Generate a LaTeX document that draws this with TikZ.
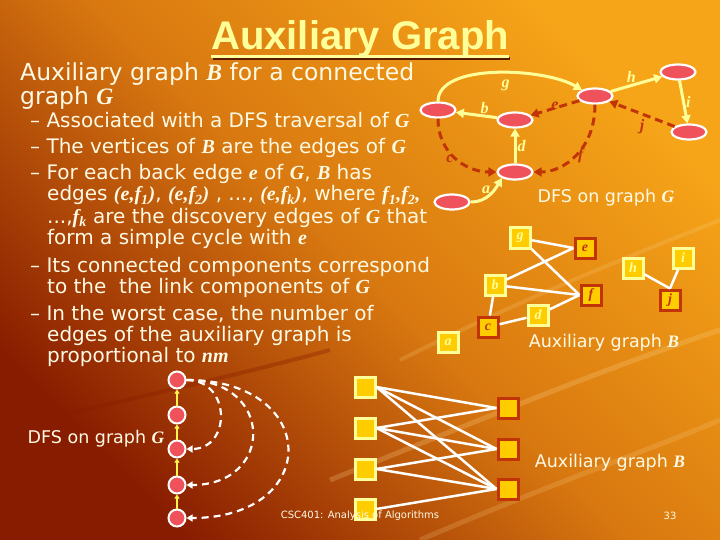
\documentclass[tikz,border=0pt]{standalone}
\usepackage{fontspec}
\setmainfont{DejaVu Sans}
\newfontfamily\titlefont{Liberation Sans}
\newfontfamily\varfont{Liberation Serif}
\usetikzlibrary{shapes.geometric,arrows.meta}
\newcommand{\mv}[1]{{\varfont\bfseries\itshape #1}}
\definecolor{bgtop}{RGB}{246,164,24}
\definecolor{bgmid}{RGB}{216,120,16}
\definecolor{bgbot}{RGB}{136,28,0}
\definecolor{paleyel}{RGB}{255,255,153}
\definecolor{cream}{RGB}{255,250,228}
\definecolor{rust}{RGB}{192,52,8}
\definecolor{vred}{RGB}{240,82,92}
\definecolor{sqgold}{RGB}{255,204,0}
\definecolor{shadowc}{RGB}{90,25,0}
\begin{document}
\begin{tikzpicture}[x=1pt, y=-1pt, >={Triangle[length=8pt,width=9pt]},
  vertex/.style={ellipse, draw=white, line width=2.2pt, fill=vred, minimum width=35pt, minimum height=15pt, inner sep=0pt},
  dot/.style={circle, draw=white, line width=2pt, fill=vred, minimum size=17pt, inner sep=0pt},
  tree/.style={->, paleyel, line width=3pt},
  back/.style={->, rust, line width=3pt, dash pattern=on 8pt off 5pt},
  elab/.style={inner sep=1pt, font=\fontsize{16}{16}\varfont\bfseries\itshape},
  sq/.style={rectangle, draw=paleyel, line width=3pt, fill=sqgold, minimum size=20pt, inner sep=0pt, text=paleyel, font=\fontsize{14}{14}\varfont\bfseries\itshape},
  sqb/.style={sq, draw=rust, text=rust},
  link/.style={white, line width=2.5pt},
  chain/.style={->, yellow!70, line width=2pt, >={Triangle[length=4pt,width=5pt]}},
  jump/.style={->, white, line width=2.2pt, dash pattern=on 7pt off 5pt, >={Triangle[length=6pt,width=7pt]}},
  titre/.style={anchor=base west, inner sep=0pt, font=\titlefont\fontsize{40}{40}\selectfont\bfseries},
  body/.style={anchor=base west, inner sep=0pt, text=cream, font=\fontsize{20}{20}\selectfont},
  captxt/.style={anchor=base, inner sep=0pt, text=cream, font=\fontsize{17.5}{17.5}\selectfont}]
  \useasboundingbox (0,0) rectangle (720,540);
  % fond degrade
  \shade[top color=bgtop, bottom color=bgbot, middle color=bgmid, shading angle=-45] (0,0) rectangle (720,540);
  \draw[bgtop!50!white, line width=5pt, opacity=.25] (330,480) .. controls (480,420) and (600,370) .. (720,330);
  \draw[bgtop!50!white, line width=5pt, opacity=.2] (420,540) .. controls (560,480) and (650,450) .. (720,420);
  \draw[bgtop!50!white, line width=4pt, opacity=.2] (400,360) .. controls (520,300) and (620,260) .. (720,220);
  \draw[bgbot, line width=4pt, opacity=.35] (0,430) .. controls (100,405) and (220,380) .. (330,350);
  % titre
  \draw[shadowc, line width=3pt] (213,59) -- (510,59);
  \node[titre, text=paleyel] (title) at (211,50) {Auxiliary Graph};
  \draw[paleyel, line width=3pt] ([yshift=-7pt]title.base west) -- ([yshift=-7pt]title.base east);
  % texte
  \node[body, font=\fontsize{23.5}{23.5}\selectfont] (t1) at (20,81) {Auxiliary graph \mv{B} for a connected};
  \node[body, font=\fontsize{23.5}{23.5}\selectfont] (t2) at (20,105) {graph \mv{G}};
  \node[body] (t3) at (30,128) {– Associated with a DFS traversal of \mv{G}};
  \node[body] (t4) at (30,154) {– The vertices of \mv{B} are the edges of \mv{G}};
  \node[body] (t5) at (30,180) {– For each back edge \mv{e} of \mv{G}, \mv{B} has};
  \node[body] (t6) at (47,201) {edges \mv{(e,f\textsubscript{1})}, \mv{(e,f\textsubscript{2})} , ..., \mv{(e,f\textsubscript{k})}, where \mv{f\textsubscript{1},f\textsubscript{2},}};
  \node[body] (t7) at (47,223) {...,\mv{f\textsubscript{k}} are the discovery edges of \mv{G} that};
  \node[body] (t8) at (47,244) {form a simple cycle with \mv{e}};
  \node[body] (t9) at (30,272) {– Its connected components correspond};
  \node[body] (t10) at (47,293) {to the \ the link components of \mv{G}};
  \node[body] (t11) at (30,320) {– In the worst case, the number of};
  \node[body] (t12) at (47,341) {edges of the auxiliary graph is};
  \node[body] (t13) at (47,362) {proportional to \mv{nm}};
  % graphe G et son parcours DFS
  \node[vertex] (n1) at (452,202) {};
  \node[vertex] (n2) at (515,172) {};
  \node[vertex] (n3) at (515,120) {};
  \node[vertex] (n4) at (438,110) {};
  \node[vertex] (n5) at (595,96) {};
  \node[vertex] (n6) at (678,72) {};
  \node[vertex] (n7) at (689,132) {};
  \draw[tree] (n1.east) .. controls +(18,0) and +(-6,10) .. node[elab, pos=.5, above left=-2pt] {a} (n2.south west);
  \draw[tree] (n2) -- node[elab, right] {d} (n3);
  \draw[tree] (n3) -- node[elab, pos=.3, above] {b} (n4);
  \draw[tree] (n4.north) .. controls +(0,-39) and +(-37,-22) .. node[elab, pos=.55, below=5pt] {g} (n5.north west);
  \draw[tree] (n5) -- node[elab, pos=.4, above] {h} (n6);
  \draw[tree] (n6) -- node[elab, right] {i} (n7);
  \draw[back] (n7) -- node[elab, below=3pt] {j} (n5);
  \draw[back] (n5) -- node[elab, above=-4pt] {e} (n3);
  \draw[back] (n5.south) .. controls +(0,45) and +(30,0) .. node[elab, right] {f} (n2.east);
  \draw[back] (n4.south) .. controls +(0,35) and +(-30,0) .. node[elab, pos=.5, left] {c} (n2.west);
  \node[captxt] (lg1) at (606,203) {DFS on graph \mv{G}};
  % graphe auxiliaire B
  \node[sq] (bg) at (520,238) {g};
  \node[sqb] (be) at (585,248) {e};
  \node[sq] (bb) at (495,285) {b};
  \node[sqb] (bf) at (591,295) {f};
  \node[sqb] (bc) at (488,327) {c};
  \node[sq] (bd) at (538,315) {d};
  \node[sq] (ba) at (448,342) {a};
  \node[sq] (bh) at (633,268) {h};
  \node[sq] (bi) at (683,258) {i};
  \node[sqb] (bj) at (670,300) {j};
  \draw[link] (bg) -- (be.west) (bg) -- (bf.west) (bb) -- (be.west) (bb) -- (bf.west)
    (bb) -- (bc) (bc) -- (bd) (bd) -- (bf.west) (bh) -- (bj.north) (bi) -- (bj.north);
  \node[captxt] (lb1) at (604,347) {Auxiliary graph \mv{B}};
  % pire cas : chaine DFS et aretes de retour
  \node[dot] (p1) at (177,380) {};
  \node[dot] (p2) at (177,415) {};
  \node[dot] (p3) at (177,449) {};
  \node[dot] (p4) at (177,485) {};
  \node[dot] (p5) at (177,518) {};
  \foreach \i/\j in {2/1,3/2,4/3,5/4}
    \draw[chain] (p\i) -- (p\j);
  \draw[jump] (p1.east) .. controls +(45,0) and +(45,0) .. (p3.east);
  \draw[jump] (p1.east) .. controls +(88,0) and +(88,0) .. (p4.east);
  \draw[jump] (p1.east) .. controls +(135,0) and +(135,0) .. (p5.east);
  \node[captxt] (lg2) at (96,443) {DFS on graph \mv{G}};
  \node[sq] (q1) at (365,387) {};
  \node[sq] (q2) at (365,428) {};
  \node[sq] (q3) at (365,469) {};
  \node[sq] (q4) at (365,509) {};
  \node[sqb] (r1) at (508,408) {};
  \node[sqb] (r2) at (508,449) {};
  \node[sqb] (r3) at (508,489) {};
  \foreach \a/\b in {1/1,1/2,1/3,2/1,2/2,2/3,3/2,3/3,4/3}
    \draw[link] (q\a.east) -- (r\b.west);
  \node[captxt] (lb2) at (610,467) {Auxiliary graph \mv{B}};
  % pied de page
  \node[anchor=base, inner sep=0pt, text=cream, font=\fontsize{10}{10}\selectfont] (foot) at (360,518) {CSC401: Analysis of Algorithms};
  \node[anchor=base, inner sep=0pt, text=cream, font=\fontsize{10}{10}\selectfont] (num) at (670,519) {33};
\end{tikzpicture}
\end{document}
